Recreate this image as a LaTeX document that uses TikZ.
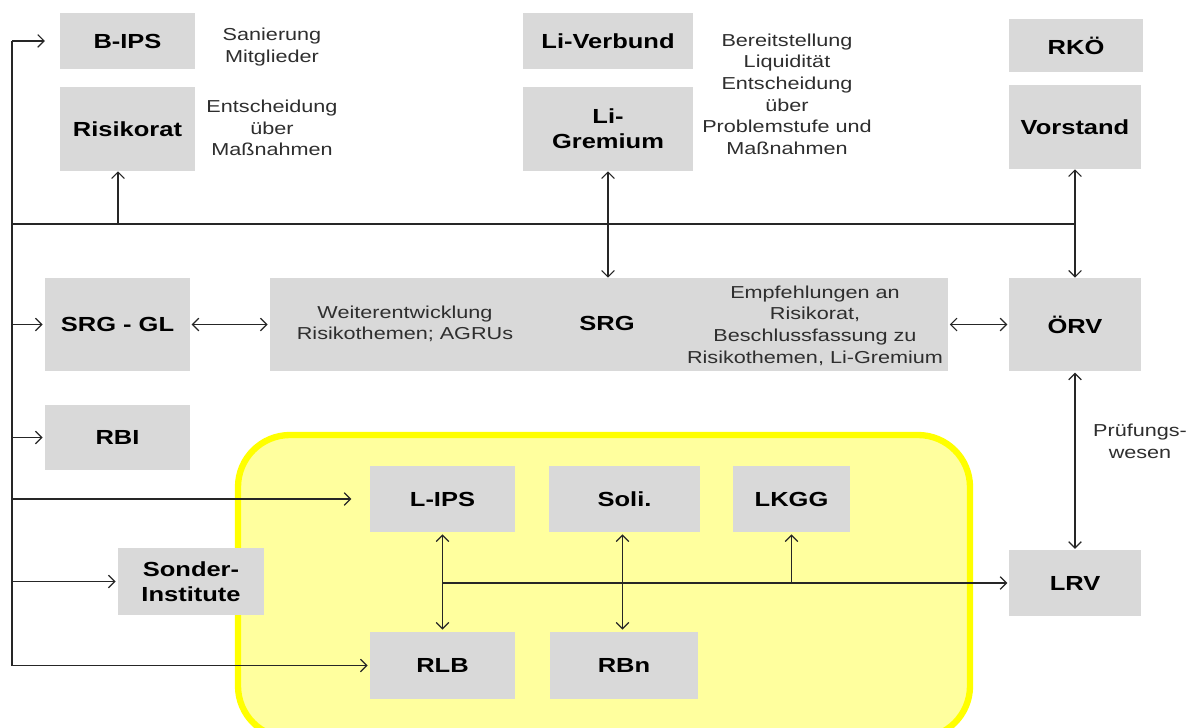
\documentclass[tikz,border=0pt]{standalone}
\usepackage{fontspec}
\setmainfont{Liberation Sans}[FakeStretch=1.25]
\usepackage{tikz}
\usetikzlibrary{arrows.meta, calc}
\definecolor{kastengrau}{HTML}{D9D9D9}
\definecolor{gelbrand}{HTML}{FFFF00}
\definecolor{gelbflaeche}{HTML}{FFFF9E}
\definecolor{textgrau}{HTML}{2E2E2E}
\definecolor{liniengrau}{HTML}{262626}
\tikzset{
	kasten/.style={fill=kastengrau, inner sep=0pt, align=center, text=black,
		font=\fontsize{14.5}{17.5}\selectfont\bfseries},
	notiz/.style={inner sep=0pt, align=center, text=textgrau,
		font=\fontsize{12.3}{15.4}\selectfont},
	linie/.style={draw=liniengrau, line width=0.85pt},
	pfeil/.style={linie, -{Straight Barb[length=4.5pt, width=9pt]}},
	doppelpfeil/.style={linie, {Straight Barb[length=4.5pt, width=9pt]}-{Straight Barb[length=4.5pt, width=9pt]}},
	landesebene/.style={draw=gelbrand, fill=gelbflaeche, line width=4.5pt, rounded corners=1.3cm}
}

\begin{document}
\begin{tikzpicture}[x=0.025cm, y=-0.025cm]

	\useasboundingbox (0,0) rectangle (1188,728);
	\fill[white] (0,0) rectangle (1188,728);

	% gelber Bereich, unten abgeschnitten
	\begin{scope}
		\clip (0,0) rectangle (1188,728);
		\path[landesebene] (238,435) rectangle (970,738);
	\end{scope}

	\coordinate (bus) at (12,0);
	\coordinate (quer) at (0,224);

	% obere Reihe
	\node[kasten, minimum width=3.375cm, minimum height=1.4cm] (bips) at (127.5,41) {B-IPS};
	\node[kasten, minimum width=3.375cm, minimum height=2.1cm] (risikorat) at (127.5,129) {Risikorat};
	\node[kasten, minimum width=4.25cm, minimum height=1.4cm] (liverbund) at (608,41) {Li-Verbund};
	\node[kasten, minimum width=4.25cm, minimum height=2.1cm] (ligremium) at (608,129) {Li-\\Gremium};
	\node[kasten, minimum width=3.35cm, minimum height=1.325cm] (rkoe) at (1076,45.5) {RKÖ};
	\node[kasten, minimum width=3.3cm, minimum height=2.1cm] (vorstand) at (1075,127) {Vorstand};

	\node[notiz] (sanierung) at (272,47) {Sanierung\\Mitglieder};
	\node[notiz] (entscheidung) at (272,128) {Entscheidung\\über\\Maßnahmen};
	\node[notiz] (bereitstellung) at (787,94) {Bereitstellung\\Liquidität\\Entscheidung\\über\\Problemstufe und\\Maßnahmen};

	% mittlere Reihe
	\node[kasten, minimum width=3.625cm, minimum height=2.325cm] (srggl) at (117.5,324.5) {SRG - GL};
	\node[kasten, minimum width=16.95cm, minimum height=2.325cm] (srg) at (609,324.5) {};
	\node[kasten] (srgtitel) at (607,323) {SRG};
	\node[notiz] (weiter) at (405,324) {Weiterentwicklung\\Risikothemen; AGRUs};
	\node[notiz] (empfehlung) at (815,325.5) {Empfehlungen an\\Risikorat,\\Beschlussfassung zu\\Risikothemen, Li-Gremium};
	\node[kasten, minimum width=3.3cm, minimum height=2.325cm] (oerv) at (1075,324.5) {ÖRV};
	\node[kasten, minimum width=3.625cm, minimum height=1.625cm] (rbi) at (117.5,437.5) {RBI};

	% Landesebene
	\node[kasten, minimum width=3.625cm, minimum height=1.65cm] (lips) at (442.5,499) {L-IPS};
	\node[kasten, minimum width=3.775cm, minimum height=1.65cm] (soli) at (624.5,499) {Soli.};
	\node[kasten, minimum width=2.925cm, minimum height=1.65cm] (lkgg) at (791.5,499) {LKGG};
	\node[kasten, minimum width=3.65cm, minimum height=1.675cm] (sonder) at (191,581.5) {Sonder-\\Institute};
	\node[kasten, minimum width=3.625cm, minimum height=1.675cm] (rlb) at (442.5,665.5) {RLB};
	\node[kasten, minimum width=3.7cm, minimum height=1.675cm] (rbn) at (624,665.5) {RBn};
	\node[kasten, minimum width=3.3cm, minimum height=1.625cm] (lrv) at (1075,583) {LRV};
	\node[notiz] (pruefung) at (1140,441) {Prüfungs-\\wesen};

	% Verbindungen
	\draw[linie] (bus |- bips) -- (bus |- rlb);
	\draw[pfeil, shorten >=10.5pt] (bus |- bips) -- (bips.west);
	\draw[pfeil, shorten >=13pt] (bus |- lips) -- (lips.west);
	\foreach \ziel in {srggl, rbi, sonder, rlb}
		\draw[pfeil, shorten >=1.5pt] (bus |- \ziel) -- (\ziel.west);

	\draw[linie] (quer -| bus) -- (quer -| vorstand);
	\draw[pfeil] ($(quer -| risikorat)+(-9.5,0)$) -- ($(risikorat.south)+(-9.5,0)$);
	\draw[doppelpfeil] (ligremium.south) -- (ligremium.south |- srg.north);
	\draw[doppelpfeil] (vorstand.south) -- (vorstand.south |- oerv.north);
	\draw[doppelpfeil, shorten <=1pt, shorten >=1.5pt] (srggl.east) -- (srg.west);
	\draw[doppelpfeil, shorten <=1pt, shorten >=1pt] (srg.east) -- (oerv.west);
	\draw[doppelpfeil, shorten <=1pt, shorten >=1pt] (oerv.south) -- (lrv.north);

	\draw[doppelpfeil, shorten <=1.5pt, shorten >=1.5pt] (lips.south) -- (rlb.north);
	\draw[doppelpfeil, shorten <=1.5pt, shorten >=1.5pt] ($(soli.south)+(-2,0)$) -- ($(soli.south |- rbn.north)+(-2,0)$);
	\draw[pfeil, shorten >=1pt] (lips.south |- lrv) -- (lrv.west);
	\draw[pfeil, shorten >=1.5pt] (lkgg.south |- lrv) -- (lkgg.south);

\end{tikzpicture}
\end{document}
